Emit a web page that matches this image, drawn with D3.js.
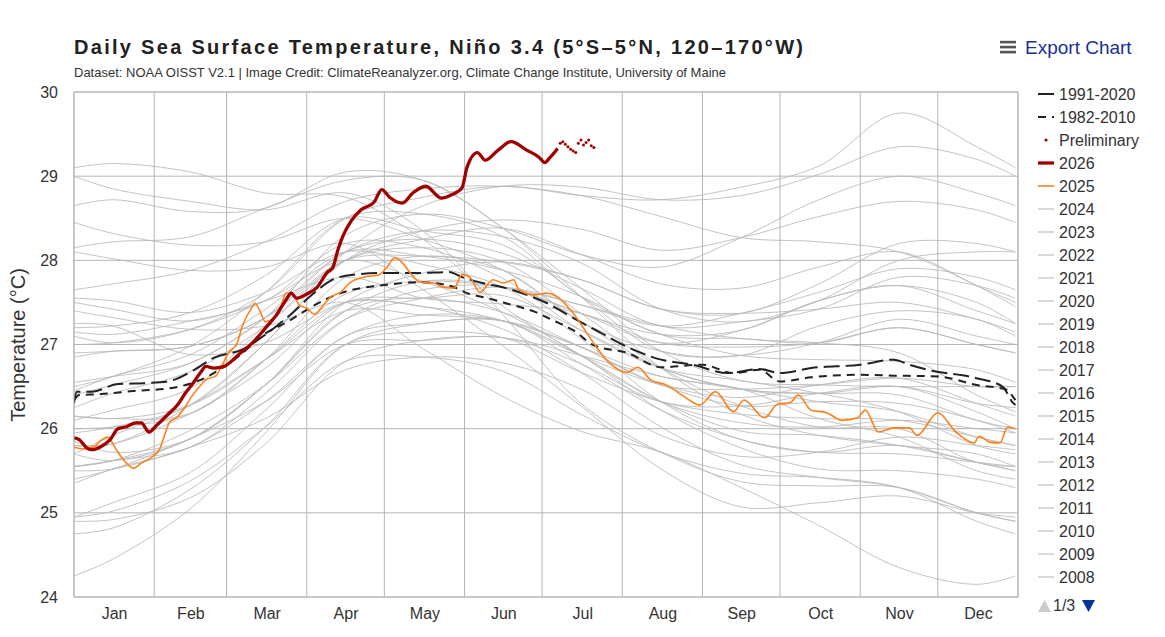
<!DOCTYPE html>
<html><head><meta charset="utf-8">
<script src="https://cdn.jsdelivr.net/npm/d3@7"></script>
<style>
body{margin:0;background:#fff;font-family:"Liberation Sans",Arial,sans-serif;}
svg text{font-family:"Liberation Sans",Arial,sans-serif;}
</style></head>
<body><svg id="c" width="1165" height="637"></svg>
<script>
// ---------- DATA ----------
const months = ["Jan","Feb","Mar","Apr","May","Jun","Jul","Aug","Sep","Oct","Nov","Dec"];
const monthStarts = [0,31,59,90,120,151,181,212,243,273,304,334,365];
const yTicks = [24,25,26,27,28,29,30];

const clim1991_2020 = [[0,26.30],[1,26.44],[7,26.44],[17,26.53],[27,26.54],[36,26.56],[46,26.69],[54,26.84],[65,26.94],[75,27.14],[85,27.39],[92,27.59],[100,27.77],[108,27.83],[121,27.85],[133,27.85],[145,27.86],[150,27.80],[158,27.73],[167,27.67],[175,27.59],[183,27.49],[191,27.35],[198,27.23],[203,27.15],[214,26.97],[227,26.82],[239,26.76],[253,26.66],[265,26.71],[273,26.66],[285,26.72],[304,26.76],[317,26.82],[323,26.76],[330,26.70],[349,26.60],[359,26.50],[363,26.31],[364,26.28]];
const clim1982_2010 = [[0,26.34],[2,26.40],[10,26.41],[24,26.45],[37,26.48],[49,26.58],[62,26.82],[75,27.15],[82,27.26],[92,27.45],[103,27.61],[113,27.68],[121,27.71],[133,27.74],[139,27.73],[147,27.68],[152,27.61],[160,27.55],[167,27.49],[178,27.39],[185,27.29],[193,27.17],[201,26.99],[214,26.90],[227,26.73],[243,26.76],[255,26.66],[265,26.70],[273,26.56],[285,26.61],[304,26.64],[317,26.63],[334,26.62],[349,26.52],[361,26.46],[363,26.38],[364,26.34]];
const y2026 = [[0,25.89],[2,25.87],[5,25.77],[7,25.75],[10,25.78],[14,25.87],[17,26.00],[20,26.02],[24,26.07],[26,26.07],[29,25.96],[32,26.04],[36,26.16],[40,26.28],[43,26.42],[46,26.54],[49,26.67],[51,26.74],[54,26.72],[58,26.74],[64,26.89],[69,27.02],[75,27.23],[78,27.34],[82,27.53],[84,27.61],[86,27.55],[90,27.60],[94,27.68],[98,27.86],[100,27.91],[102,28.12],[104,28.29],[107,28.46],[111,28.60],[116,28.69],[119,28.84],[122,28.75],[127,28.68],[131,28.80],[136,28.88],[142,28.74],[146,28.78],[150,28.86],[152,29.11],[156,29.28],[159,29.19],[164,29.31],[169,29.41],[175,29.31],[180,29.22],[182,29.16],[184,29.22],[187,29.33]];
const prelim2026 = [[188,29.39],[189,29.41],[190,29.38],[191,29.35],[192,29.32],[193,29.30],[194,29.28],[195,29.39],[196,29.43],[197,29.37],[198,29.40],[199,29.43],[200,29.36],[201,29.34]];
const y2025 = [[0,25.78],[4,25.76],[8,25.79],[10,25.85],[13,25.90],[14,25.87],[17,25.72],[20,25.60],[23,25.53],[26,25.59],[30,25.66],[33,25.75],[35,25.92],[37,26.08],[40,26.14],[43,26.26],[45,26.36],[48,26.48],[51,26.58],[55,26.63],[57,26.74],[60,26.91],[63,27.01],[65,27.21],[69,27.45],[70,27.49],[72,27.39],[74,27.27],[77,27.31],[80,27.45],[82,27.61],[85,27.59],[87,27.47],[90,27.43],[93,27.36],[96,27.45],[99,27.56],[103,27.62],[107,27.74],[112,27.80],[118,27.83],[121,27.92],[124,28.03],[127,27.97],[130,27.85],[134,27.74],[139,27.73],[143,27.68],[147,27.67],[150,27.83],[153,27.80],[157,27.62],[162,27.77],[166,27.73],[170,27.77],[172,27.65],[178,27.59],[183,27.61],[188,27.54],[193,27.37],[198,27.15],[202,26.97],[207,26.78],[214,26.67],[218,26.73],[223,26.58],[229,26.52],[236,26.38],[242,26.28],[248,26.44],[255,26.20],[259,26.34],[267,26.13],[272,26.29],[277,26.31],[280,26.40],[285,26.22],[291,26.19],[297,26.10],[303,26.13],[306,26.22],[311,25.96],[317,26.01],[323,26.01],[326,25.92],[334,26.19],[341,25.96],[348,25.83],[350,25.91],[354,25.84],[358,25.83],[361,26.02],[364,26.00]];

// gray years: values at these days
const grayDays = [0,15,45,74,105,135,166,196,227,258,288,319,349,364];
const grayYears = [1982,1983,1984,1985,1986,1987,1988,1989,1990,1991,1992,1993,1994,1995,1996,1997,1998,1999,2000,2001,2002,2003,2004,2005,2006,2007,2008,2009,2010,2011,2012,2013,2014,2015,2016,2017,2018,2019,2020,2021,2022,2023,2024];
const grayValues = [
 [26.40,26.52,26.78,27.32,28.30,28.55,28.38,28.07,27.92,28.27,28.72,29.00,28.80,28.65],
 [28.65,28.72,28.58,28.62,29.05,28.95,28.38,27.57,26.72,26.17,25.92,25.80,25.70,25.55],
 [25.70,25.92,26.28,26.82,27.40,27.35,27.28,26.97,26.62,26.47,26.12,25.90,25.50,25.40],
 [25.40,25.52,25.88,26.32,27.00,27.05,27.08,26.77,26.32,26.27,26.42,26.50,26.20,26.00],
 [26.00,26.02,26.18,26.82,27.60,27.75,27.68,27.47,27.22,27.37,27.62,27.90,27.80,27.65],
 [27.65,27.72,27.88,28.22,28.70,28.85,28.88,28.77,28.52,28.27,28.22,28.10,27.70,27.45],
 [27.40,27.32,27.18,27.22,27.50,26.95,26.38,25.97,25.72,25.30,24.85,24.35,24.15,24.25],
 [24.25,24.45,25.05,25.95,27.00,27.25,27.28,26.97,26.52,26.47,26.52,26.60,26.50,26.50],
 [26.45,26.62,26.88,27.42,28.10,28.05,27.88,27.57,27.12,27.07,27.02,27.20,27.00,26.90],
 [26.85,26.92,26.98,27.32,28.10,28.35,28.28,27.97,27.42,27.27,27.52,28.00,28.10,28.10],
 [28.15,28.22,28.28,28.62,28.95,28.95,28.38,27.67,26.92,26.57,26.52,26.50,26.50,26.50],
 [26.50,26.62,26.98,27.62,28.50,28.55,28.28,27.57,27.12,26.87,26.82,26.80,26.70,26.55],
 [26.55,26.62,26.78,27.32,28.10,28.25,28.08,27.67,27.22,27.27,27.42,27.80,27.70,27.55],
 [27.55,27.52,27.38,27.62,28.10,27.95,27.68,27.07,26.32,25.87,25.72,25.80,25.60,25.50],
 [25.55,25.62,25.88,26.52,27.40,27.55,27.38,26.97,26.52,26.27,26.32,26.30,26.10,25.95],
 [25.95,26.02,26.28,27.02,28.10,28.65,28.88,28.87,28.72,28.77,29.02,29.35,29.20,29.00],
 [29.00,28.85,28.70,28.60,28.80,28.35,27.35,26.30,25.72,25.37,25.32,25.30,25.00,24.90],
 [24.95,25.02,25.38,26.02,26.80,26.85,26.68,26.17,25.72,25.47,25.42,25.30,24.90,24.75],
 [24.75,24.82,25.28,26.02,27.00,27.15,27.08,26.67,26.32,26.17,26.12,26.10,25.90,25.80],
 [25.80,25.82,26.18,26.72,27.50,27.55,27.58,27.17,26.72,26.47,26.42,26.50,26.30,26.25],
 [26.25,26.42,26.68,27.22,28.00,28.25,28.38,28.07,27.72,27.67,27.92,28.10,27.70,27.50],
 [27.50,27.42,27.28,27.52,27.80,27.55,27.48,27.37,27.02,26.97,27.02,27.20,27.00,26.90],
 [26.90,26.92,26.98,27.32,28.00,28.05,27.98,27.77,27.42,27.37,27.42,27.50,27.30,27.15],
 [27.15,27.12,27.28,27.52,28.20,28.15,27.78,27.17,26.72,26.57,26.42,26.20,25.80,25.70],
 [25.70,25.62,25.88,26.52,27.40,27.75,27.68,27.37,27.12,27.17,27.52,27.70,27.50,27.25],
 [27.25,27.22,26.88,27.02,27.50,27.45,27.18,26.67,26.02,25.57,25.42,25.30,25.00,24.90],
 [24.90,24.92,25.18,25.82,26.80,27.05,27.08,26.87,26.62,26.47,26.32,26.20,25.90,25.80],
 [25.85,25.72,25.88,26.52,27.50,27.85,27.98,27.77,27.42,27.37,27.72,28.20,28.20,28.10],
 [28.10,28.02,27.88,27.92,28.20,27.65,26.98,26.27,25.52,25.07,25.12,25.20,25.00,24.95],
 [24.95,25.12,25.48,26.22,27.10,27.25,27.28,26.77,26.22,25.87,25.72,25.70,25.60,25.55],
 [25.55,25.62,25.98,26.52,27.30,27.55,27.68,27.47,27.22,27.07,27.02,26.90,26.40,26.20],
 [26.15,26.12,26.28,26.82,27.50,27.45,27.28,26.87,26.52,26.37,26.52,26.60,26.30,26.15],
 [26.15,26.12,26.18,26.82,27.80,28.05,27.88,27.27,26.92,26.87,27.22,27.40,27.30,27.10],
 [27.10,27.02,27.18,27.62,28.50,28.75,28.88,28.77,28.72,28.87,29.12,29.75,29.35,29.10],
 [29.10,29.15,29.05,28.80,28.75,28.25,27.45,26.87,26.32,26.07,26.02,26.10,26.00,25.95],
 [26.10,26.22,26.48,27.22,28.00,28.15,27.98,27.37,26.72,26.27,26.02,26.00,25.60,25.55],
 [25.55,25.62,25.78,26.42,27.30,27.65,27.68,27.37,27.02,27.17,27.52,27.70,27.40,27.25],
 [27.20,27.22,27.38,27.82,28.50,28.35,28.18,27.57,26.92,26.87,27.02,27.30,27.10,27.00],
 [27.00,27.02,27.18,27.52,28.00,27.75,27.38,26.87,26.22,25.77,25.52,25.50,25.40,25.30],
 [25.35,25.52,25.78,26.32,27.10,27.35,27.28,26.87,26.32,25.97,25.92,25.80,25.60,25.50],
 [25.50,25.52,25.78,26.12,26.70,26.85,26.78,26.47,25.92,25.67,25.72,25.90,25.80,25.75],
 [25.80,25.82,26.28,27.02,28.00,28.35,28.48,28.37,28.12,28.27,28.52,28.70,28.60,28.45],
 [28.45,28.32,28.18,28.22,28.50,28.25,27.88,27.27,26.72,26.47,26.42,26.40,26.10,26.00]
];
const legendYears = [2024,2023,2022,2021,2020,2019,2018,2017,2016,2015,2014,2013,2012,2011,2010,2009,2008];

// ---------- DRAW ----------
const svg = d3.select("#c");
const L = 74, R = 1018, T = 92, B = 597;
const x = d3.scaleLinear().domain([0,365]).range([L,R]);
const y = d3.scaleLinear().domain([24,30]).range([B,T]);
const gridCol = "#b5b5b5";

// title
svg.append("text").attr("x",74).attr("y",54).attr("font-size",20).attr("font-weight","bold")
  .attr("fill","#222").attr("textLength",729).attr("lengthAdjust","spacing")
  .text("Daily Sea Surface Temperature, Niño 3.4 (5°S–5°N, 120–170°W)");
svg.append("text").attr("x",74).attr("y",77).attr("font-size",13).attr("fill","#333")
  .attr("textLength",652).attr("lengthAdjust","spacingAndGlyphs")
  .text("Dataset: NOAA OISST V2.1 | Image Credit: ClimateReanalyzer.org, Climate Change Institute, University of Maine");

// export
[42,47,52].forEach(v=>svg.append("rect").attr("x",1000).attr("y",v-1.2).attr("width",16).attr("height",2.6).attr("fill","#555"));
svg.append("text").attr("x",1025).attr("y",54).attr("font-size",19).attr("fill","#1a2f99").text("Export Chart");

// grid
const g = svg.append("g");
g.selectAll(".hg").data(yTicks).join("line").attr("x1",L).attr("x2",R)
  .attr("y1",d=>y(d)).attr("y2",d=>y(d)).attr("stroke",gridCol).attr("stroke-width",1);
g.selectAll(".vg").data(monthStarts).join("line").attr("y1",T).attr("y2",B)
  .attr("x1",d=>x(d)).attr("x2",d=>x(d)).attr("stroke",gridCol).attr("stroke-width",1);

// axes labels via d3 axes
const yAxis = d3.axisLeft(y).tickValues(yTicks).tickSize(0).tickPadding(16).tickFormat(d3.format("d"));
const ya = svg.append("g").attr("transform",`translate(${L},0)`).call(yAxis);
ya.select(".domain").remove();
ya.selectAll("text").attr("font-size",16).attr("fill","#333").attr("font-family","Liberation Sans, Arial, sans-serif");

const mid = months.map((m,i)=>(monthStarts[i]+monthStarts[i+1])/2);
const xAxis = d3.axisBottom(x).tickValues(mid).tickFormat((d,i)=>months[i]).tickSize(0).tickPadding(11);
const xa = svg.append("g").attr("transform",`translate(0,${B})`).call(xAxis);
xa.select(".domain").remove();
xa.selectAll("text").attr("font-size",16).attr("fill","#333").attr("font-family","Liberation Sans, Arial, sans-serif");

svg.append("text").attr("transform","translate(25,345) rotate(-90)").attr("text-anchor","middle")
  .attr("font-size",20).attr("fill","#333").text("Temperature (°C)");

// clip
svg.append("clipPath").attr("id","clip").append("rect").attr("x",L).attr("y",T-10).attr("width",R-L).attr("height",B-T+10);
const plot = svg.append("g").attr("clip-path","url(#clip)");

const lineGray = d3.line().x((d,i)=>x(grayDays[i])).y(d=>y(d)).curve(d3.curveCatmullRom.alpha(0.5));
plot.selectAll(".gy").data(grayValues).join("path").attr("d",lineGray)
  .attr("fill","none").attr("stroke","#b9b9b9").attr("stroke-width",1).attr("stroke-opacity",0.85);

const line = d3.line().x(d=>x(d[0])).y(d=>y(d[1])).curve(d3.curveMonotoneX);
plot.append("path").attr("d",line(clim1982_2010)).attr("fill","none").attr("stroke","#222")
  .attr("stroke-width",2).attr("stroke-dasharray","8,6");
plot.append("path").attr("d",line(clim1991_2020)).attr("fill","none").attr("stroke","#222")
  .attr("stroke-width",2).attr("stroke-dasharray","16,6");
plot.append("path").attr("d",line(y2025)).attr("fill","none").attr("stroke","#ff8019").attr("stroke-width",1.6);
plot.append("path").attr("d",line(y2026)).attr("fill","none").attr("stroke","#a00000").attr("stroke-width",3.3).attr("stroke-linejoin","round");
plot.selectAll(".pr").data(prelim2026).join("circle").attr("cx",d=>x(d[0])).attr("cy",d=>y(d[1])).attr("r",1.5).attr("fill","#a00000");

// plot border
svg.append("rect").attr("x",L).attr("y",T).attr("width",R-L).attr("height",B-T).attr("fill","none").attr("stroke",gridCol);

// legend
const lg = svg.append("g");
const items = [
 {t:"1991-2020",type:"line",c:"#222",w:2,dash:"16,6"},
 {t:"1982-2010",type:"line",c:"#222",w:2,dash:"8,6"},
 {t:"Preliminary",type:"dot",c:"#a00000"},
 {t:"2026",type:"line",c:"#a00000",w:3.3},
 {t:"2025",type:"line",c:"#ff8019",w:1.6}
].concat(legendYears.map(v=>({t:String(v),type:"line",c:"#cccccc",w:1.5})));
items.forEach((it,i)=>{
  const yy = 94 + i*23;
  if(it.type==="line"){
    lg.append("line").attr("x1",1038).attr("x2",1054).attr("y1",yy).attr("y2",yy)
      .attr("stroke",it.c).attr("stroke-width",it.w).attr("stroke-dasharray",it.dash||null);
  } else {
    lg.append("circle").attr("cx",1046).attr("cy",yy).attr("r",1.6).attr("fill",it.c);
  }
  lg.append("text").attr("x",1059).attr("y",yy+5.5).attr("font-size",16).attr("fill","#333").text(it.t);
});
// pager
svg.append("path").attr("d","M1038,612 L1051,612 L1044.5,600 Z").attr("fill","#cccccc");
svg.append("text").attr("x",1053).attr("y",611).attr("font-size",16).attr("fill","#333").text("1/3");
svg.append("path").attr("d","M1082,600 L1095,600 L1088.5,612 Z").attr("fill","#003399");
</script></body></html>
